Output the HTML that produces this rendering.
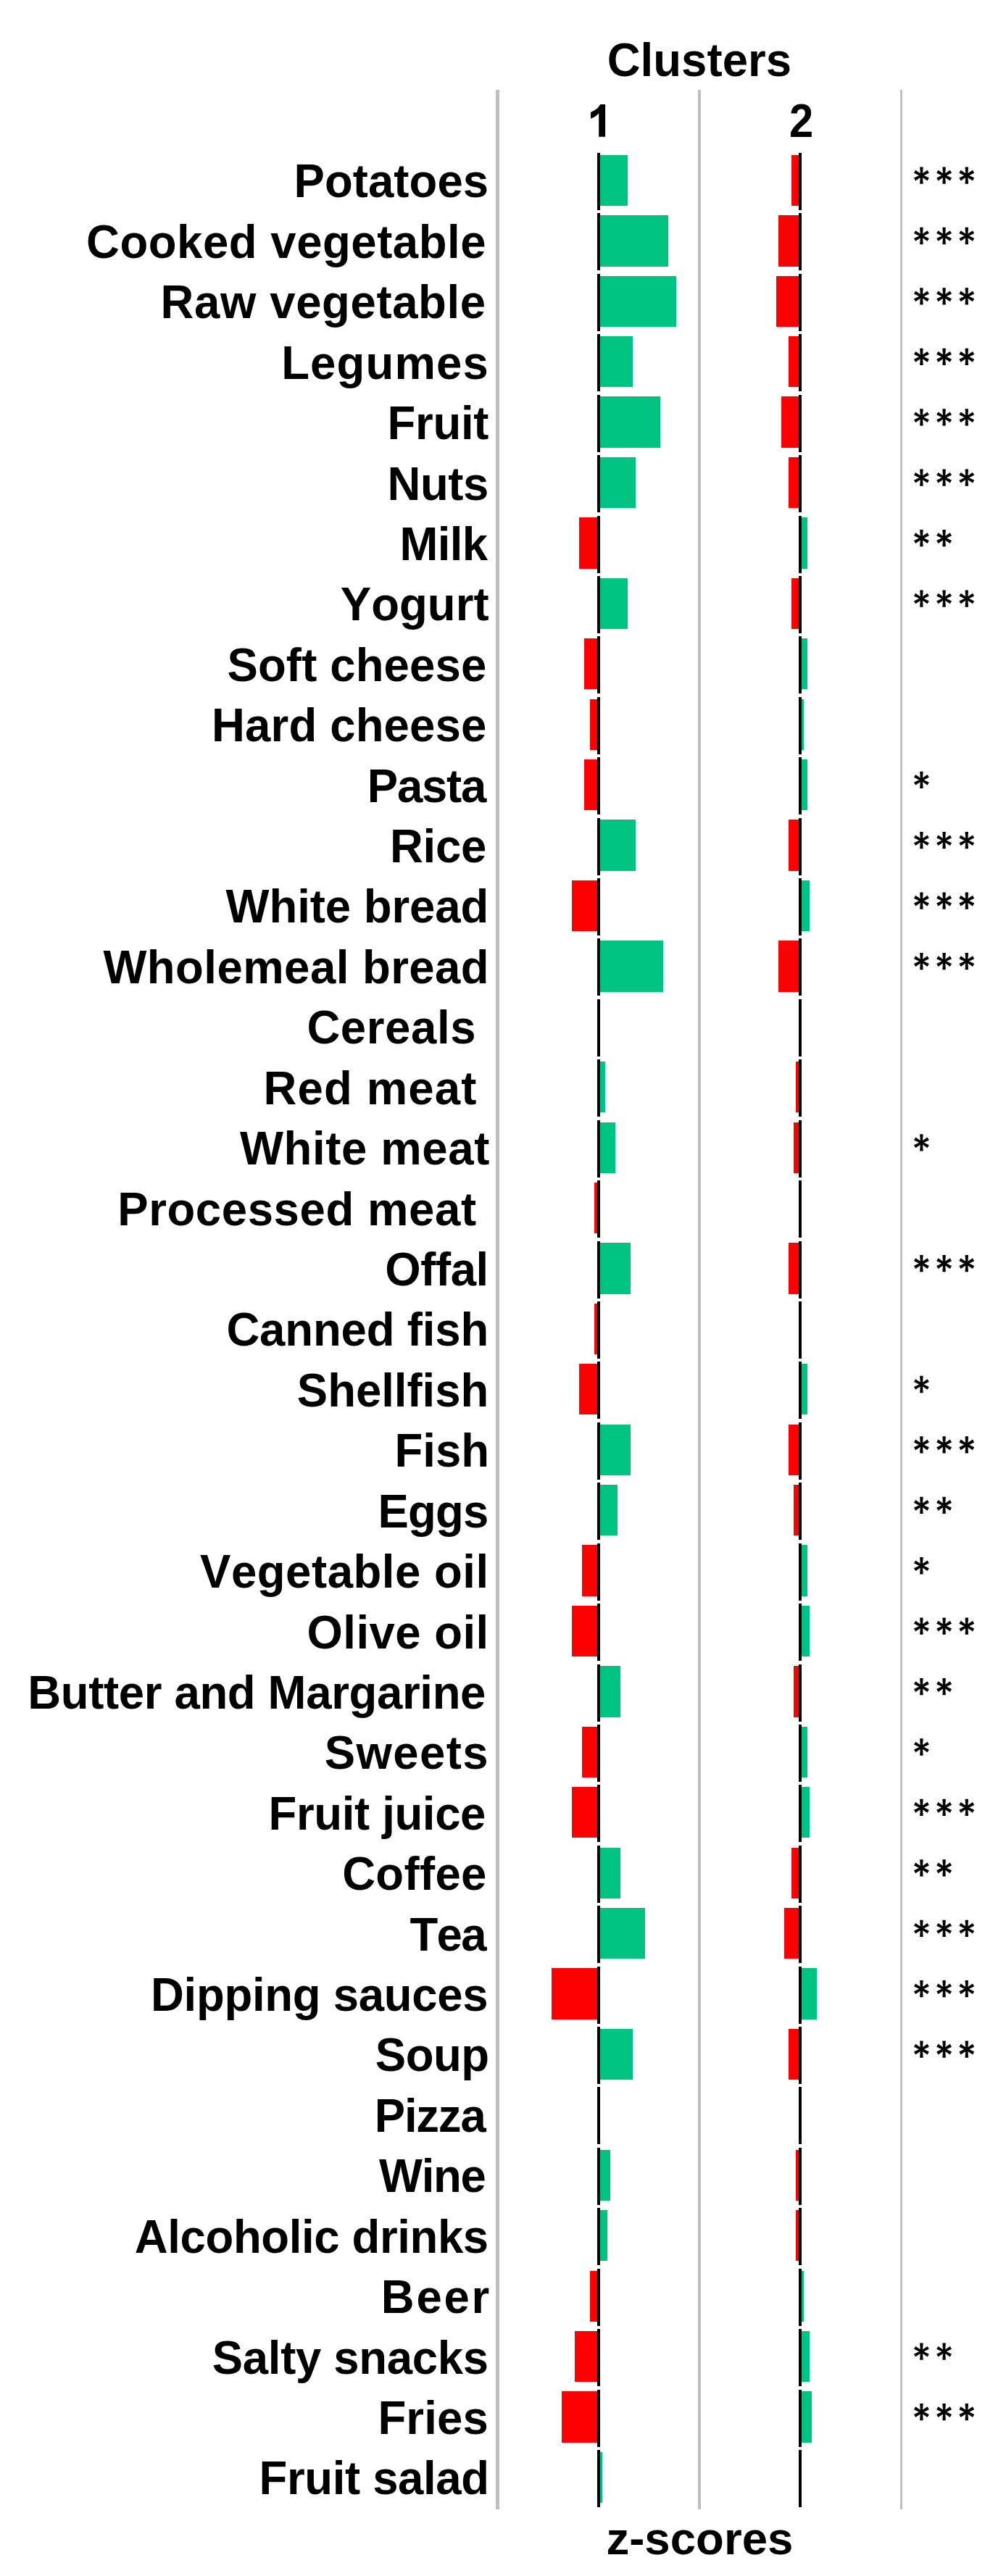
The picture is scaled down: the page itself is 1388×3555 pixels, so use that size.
<!DOCTYPE html>
<html><head><meta charset="utf-8"><title>Clusters</title>
<style>
html,body{margin:0;padding:0;background:#fff;}
body{width:1388px;height:3555px;position:relative;overflow:hidden;font-family:"Liberation Sans",sans-serif;}
.t{position:absolute;font-weight:bold;font-size:63.5px;line-height:1;height:63.5px;color:#000;white-space:pre;font-kerning:none;font-feature-settings:"kern" 0;transform:scaleY(1.015);transform-origin:0 53.76px;}
.g{position:absolute;background:#bfbfbf;}
.k{position:absolute;background:#000;}
.b{position:absolute;}
svg{position:absolute;left:0;top:0;}
</style></head><body>
<div class="g" style="left:684.20px;width:4.70px;top:123.5px;height:3339.3px"></div>
<div class="g" style="left:962.60px;width:4.40px;top:123.5px;height:3339.3px"></div>
<div class="g" style="left:1241.60px;width:3.90px;top:123.5px;height:3339.3px"></div>
<div class="t" id="title" style="left:837.70px;top:52.04px;letter-spacing:0.043px">Clusters</div>
<div class="t" id="two" style="left:1089.10px;top:136.04px;transform:scale(0.94,1.015);transform-origin:0 53.76px;letter-spacing:0.000px">2</div>
<div class="t" id="zs" style="left:836.40px;top:3471.54px;transform:scaleY(0.99);letter-spacing:0.043px">z-scores</div>
<svg width="1388" height="220" style="position:absolute;left:0;top:0"><path fill="#000" d="M835.1 143.9 L828.2 143.9 C826.9 146.5 825.2 148.6 823.1 150.3 C820.9 152.0 818.3 153.6 815.0 155.0 L815.0 163.8 C817.2 163.0 819.1 162.0 820.9 160.9 C822.9 159.7 824.7 158.3 826.2 156.6 L826.2 188.7 L835.1 188.7 Z"/></svg>
<div class="t" id="l0" style="left:405.60px;top:219.44px;letter-spacing:0.043px">Potatoes</div>
<div class="b" style="background:#00c281;left:828.00px;width:38.20px;top:213.80px;height:70.30px"></div>
<div class="k" style="left:824.10px;width:3.90px;top:211.00px;height:79.00px"></div>
<div class="b" style="background:#ff0000;left:1092.00px;width:10.90px;top:213.80px;height:70.30px"></div>
<div class="k" style="left:1102.40px;width:4.00px;top:211.00px;height:79.00px"></div>
<div class="t" id="l1" style="left:119.00px;top:302.86px;letter-spacing:0.540px">Cooked vegetable</div>
<div class="b" style="background:#00c281;left:828.00px;width:93.50px;top:297.22px;height:70.30px"></div>
<div class="k" style="left:824.10px;width:3.90px;top:294.42px;height:79.00px"></div>
<div class="b" style="background:#ff0000;left:1074.30px;width:28.60px;top:297.22px;height:70.30px"></div>
<div class="k" style="left:1102.40px;width:4.00px;top:294.42px;height:79.00px"></div>
<div class="t" id="l2" style="left:221.60px;top:386.28px;letter-spacing:0.608px">Raw vegetable</div>
<div class="b" style="background:#00c281;left:828.00px;width:104.80px;top:380.64px;height:70.30px"></div>
<div class="k" style="left:824.10px;width:3.90px;top:377.84px;height:79.00px"></div>
<div class="b" style="background:#ff0000;left:1071.20px;width:31.70px;top:380.64px;height:70.30px"></div>
<div class="k" style="left:1102.40px;width:4.00px;top:377.84px;height:79.00px"></div>
<div class="t" id="l3" style="left:388.20px;top:469.70px;letter-spacing:1.133px">Legumes</div>
<div class="b" style="background:#00c281;left:828.00px;width:45.40px;top:464.06px;height:70.30px"></div>
<div class="k" style="left:824.10px;width:3.90px;top:461.26px;height:79.00px"></div>
<div class="b" style="background:#ff0000;left:1087.90px;width:15.00px;top:464.06px;height:70.30px"></div>
<div class="k" style="left:1102.40px;width:4.00px;top:461.26px;height:79.00px"></div>
<div class="t" id="l4" style="left:534.60px;top:553.12px;letter-spacing:-0.300px">Fruit</div>
<div class="b" style="background:#00c281;left:828.00px;width:82.90px;top:547.48px;height:70.30px"></div>
<div class="k" style="left:824.10px;width:3.90px;top:544.68px;height:79.00px"></div>
<div class="b" style="background:#ff0000;left:1077.70px;width:25.20px;top:547.48px;height:70.30px"></div>
<div class="k" style="left:1102.40px;width:4.00px;top:544.68px;height:79.00px"></div>
<div class="t" id="l5" style="left:534.60px;top:636.54px;letter-spacing:-0.467px">Nuts</div>
<div class="b" style="background:#00c281;left:828.00px;width:48.80px;top:630.90px;height:70.30px"></div>
<div class="k" style="left:824.10px;width:3.90px;top:628.10px;height:79.00px"></div>
<div class="b" style="background:#ff0000;left:1087.90px;width:15.00px;top:630.90px;height:70.30px"></div>
<div class="k" style="left:1102.40px;width:4.00px;top:628.10px;height:79.00px"></div>
<div class="t" id="l6" style="left:551.40px;top:719.96px;letter-spacing:-0.633px">Milk</div>
<div class="b" style="background:#ff0000;left:799.30px;width:25.30px;top:714.32px;height:70.30px"></div>
<div class="k" style="left:824.10px;width:3.90px;top:711.52px;height:79.00px"></div>
<div class="b" style="background:#00c281;left:1106.40px;width:7.20px;top:714.32px;height:70.30px"></div>
<div class="k" style="left:1102.40px;width:4.00px;top:711.52px;height:79.00px"></div>
<div class="t" id="l7" style="left:469.80px;top:803.38px;letter-spacing:0.040px">Yogurt</div>
<div class="b" style="background:#00c281;left:828.00px;width:38.10px;top:797.74px;height:70.30px"></div>
<div class="k" style="left:824.10px;width:3.90px;top:794.94px;height:79.00px"></div>
<div class="b" style="background:#ff0000;left:1092.00px;width:10.90px;top:797.74px;height:70.30px"></div>
<div class="k" style="left:1102.40px;width:4.00px;top:794.94px;height:79.00px"></div>
<div class="t" id="l8" style="left:313.40px;top:886.80px;letter-spacing:0.150px">Soft cheese</div>
<div class="b" style="background:#ff0000;left:806.30px;width:18.30px;top:881.16px;height:70.30px"></div>
<div class="k" style="left:824.10px;width:3.90px;top:878.36px;height:79.00px"></div>
<div class="b" style="background:#00c281;left:1106.40px;width:7.20px;top:881.16px;height:70.30px"></div>
<div class="k" style="left:1102.40px;width:4.00px;top:878.36px;height:79.00px"></div>
<div class="t" id="l9" style="left:292.00px;top:970.22px;letter-spacing:0.170px">Hard cheese</div>
<div class="b" style="background:#ff0000;left:813.60px;width:11.00px;top:964.58px;height:70.30px"></div>
<div class="k" style="left:824.10px;width:3.90px;top:961.78px;height:79.00px"></div>
<div class="b" style="background:#00c281;left:1106.40px;width:3.00px;top:964.58px;height:70.30px"></div>
<div class="k" style="left:1102.40px;width:4.00px;top:961.78px;height:79.00px"></div>
<div class="t" id="l10" style="left:506.80px;top:1053.64px;letter-spacing:-1.225px">Pasta</div>
<div class="b" style="background:#ff0000;left:806.30px;width:18.30px;top:1048.00px;height:70.30px"></div>
<div class="k" style="left:824.10px;width:3.90px;top:1045.20px;height:79.00px"></div>
<div class="b" style="background:#00c281;left:1106.40px;width:7.20px;top:1048.00px;height:70.30px"></div>
<div class="k" style="left:1102.40px;width:4.00px;top:1045.20px;height:79.00px"></div>
<div class="t" id="l11" style="left:538.00px;top:1137.06px;letter-spacing:-0.267px">Rice</div>
<div class="b" style="background:#00c281;left:828.00px;width:48.80px;top:1131.42px;height:70.30px"></div>
<div class="k" style="left:824.10px;width:3.90px;top:1128.62px;height:79.00px"></div>
<div class="b" style="background:#ff0000;left:1087.90px;width:15.00px;top:1131.42px;height:70.30px"></div>
<div class="k" style="left:1102.40px;width:4.00px;top:1128.62px;height:79.00px"></div>
<div class="t" id="l12" style="left:311.60px;top:1220.48px;letter-spacing:-0.060px">White bread</div>
<div class="b" style="background:#ff0000;left:788.90px;width:35.70px;top:1214.84px;height:70.30px"></div>
<div class="k" style="left:824.10px;width:3.90px;top:1212.04px;height:79.00px"></div>
<div class="b" style="background:#00c281;left:1106.40px;width:10.30px;top:1214.84px;height:70.30px"></div>
<div class="k" style="left:1102.40px;width:4.00px;top:1212.04px;height:79.00px"></div>
<div class="t" id="l13" style="left:142.40px;top:1303.90px;letter-spacing:0.464px">Wholemeal bread</div>
<div class="b" style="background:#00c281;left:828.00px;width:87.00px;top:1298.26px;height:70.30px"></div>
<div class="k" style="left:824.10px;width:3.90px;top:1295.46px;height:79.00px"></div>
<div class="b" style="background:#ff0000;left:1074.30px;width:28.60px;top:1298.26px;height:70.30px"></div>
<div class="k" style="left:1102.40px;width:4.00px;top:1295.46px;height:79.00px"></div>
<div class="t" id="l14" style="left:423.40px;top:1387.32px;letter-spacing:0.600px">Cereals</div>
<div class="k" style="left:824.10px;width:3.90px;top:1378.88px;height:79.00px"></div>
<div class="k" style="left:1102.40px;width:4.00px;top:1378.88px;height:79.00px"></div>
<div class="t" id="l15" style="left:363.40px;top:1470.74px;letter-spacing:1.171px">Red meat</div>
<div class="b" style="background:#00c281;left:828.00px;width:6.90px;top:1465.10px;height:70.30px"></div>
<div class="k" style="left:824.10px;width:3.90px;top:1462.30px;height:79.00px"></div>
<div class="b" style="background:#ff0000;left:1098.30px;width:4.60px;top:1465.10px;height:70.30px"></div>
<div class="k" style="left:1102.40px;width:4.00px;top:1462.30px;height:79.00px"></div>
<div class="t" id="l16" style="left:331.00px;top:1554.16px;letter-spacing:0.622px">White meat</div>
<div class="b" style="background:#00c281;left:828.00px;width:20.70px;top:1548.52px;height:70.30px"></div>
<div class="k" style="left:824.10px;width:3.90px;top:1545.72px;height:79.00px"></div>
<div class="b" style="background:#ff0000;left:1095.10px;width:7.80px;top:1548.52px;height:70.30px"></div>
<div class="k" style="left:1102.40px;width:4.00px;top:1545.72px;height:79.00px"></div>
<div class="t" id="l17" style="left:162.20px;top:1637.58px;letter-spacing:0.600px">Processed meat</div>
<div class="b" style="background:#ff0000;left:819.80px;width:4.80px;top:1631.94px;height:70.30px"></div>
<div class="k" style="left:824.10px;width:3.90px;top:1629.14px;height:79.00px"></div>
<div class="k" style="left:1102.40px;width:4.00px;top:1629.14px;height:79.00px"></div>
<div class="t" id="l18" style="left:531.20px;top:1721.00px;letter-spacing:-0.400px">Offal</div>
<div class="b" style="background:#00c281;left:828.00px;width:41.50px;top:1715.36px;height:70.30px"></div>
<div class="k" style="left:824.10px;width:3.90px;top:1712.56px;height:79.00px"></div>
<div class="b" style="background:#ff0000;left:1087.90px;width:15.00px;top:1715.36px;height:70.30px"></div>
<div class="k" style="left:1102.40px;width:4.00px;top:1712.56px;height:79.00px"></div>
<div class="t" id="l19" style="left:312.40px;top:1804.42px;letter-spacing:-0.150px">Canned fish</div>
<div class="b" style="background:#ff0000;left:819.80px;width:4.80px;top:1798.78px;height:70.30px"></div>
<div class="k" style="left:824.10px;width:3.90px;top:1795.98px;height:79.00px"></div>
<div class="k" style="left:1102.40px;width:4.00px;top:1795.98px;height:79.00px"></div>
<div class="t" id="l20" style="left:409.80px;top:1887.84px;letter-spacing:-0.025px">Shellfish</div>
<div class="b" style="background:#ff0000;left:799.30px;width:25.30px;top:1882.20px;height:70.30px"></div>
<div class="k" style="left:824.10px;width:3.90px;top:1879.40px;height:79.00px"></div>
<div class="b" style="background:#00c281;left:1106.40px;width:7.20px;top:1882.20px;height:70.30px"></div>
<div class="k" style="left:1102.40px;width:4.00px;top:1879.40px;height:79.00px"></div>
<div class="t" id="l21" style="left:544.60px;top:1971.26px;letter-spacing:-0.033px">Fish</div>
<div class="b" style="background:#00c281;left:828.00px;width:41.50px;top:1965.62px;height:70.30px"></div>
<div class="k" style="left:824.10px;width:3.90px;top:1962.82px;height:79.00px"></div>
<div class="b" style="background:#ff0000;left:1087.90px;width:15.00px;top:1965.62px;height:70.30px"></div>
<div class="k" style="left:1102.40px;width:4.00px;top:1962.82px;height:79.00px"></div>
<div class="t" id="l22" style="left:521.40px;top:2054.68px;letter-spacing:-0.800px">Eggs</div>
<div class="b" style="background:#00c281;left:828.00px;width:23.80px;top:2049.04px;height:70.30px"></div>
<div class="k" style="left:824.10px;width:3.90px;top:2046.24px;height:79.00px"></div>
<div class="b" style="background:#ff0000;left:1095.10px;width:7.80px;top:2049.04px;height:70.30px"></div>
<div class="k" style="left:1102.40px;width:4.00px;top:2046.24px;height:79.00px"></div>
<div class="t" id="l23" style="left:276.00px;top:2138.10px;letter-spacing:0.542px">Vegetable oil</div>
<div class="b" style="background:#ff0000;left:803.20px;width:21.40px;top:2132.46px;height:70.30px"></div>
<div class="k" style="left:824.10px;width:3.90px;top:2129.66px;height:79.00px"></div>
<div class="b" style="background:#00c281;left:1106.40px;width:7.20px;top:2132.46px;height:70.30px"></div>
<div class="k" style="left:1102.40px;width:4.00px;top:2129.66px;height:79.00px"></div>
<div class="t" id="l24" style="left:423.40px;top:2221.52px;letter-spacing:0.475px">Olive oil</div>
<div class="b" style="background:#ff0000;left:788.90px;width:35.70px;top:2215.88px;height:70.30px"></div>
<div class="k" style="left:824.10px;width:3.90px;top:2213.08px;height:79.00px"></div>
<div class="b" style="background:#00c281;left:1106.40px;width:10.30px;top:2215.88px;height:70.30px"></div>
<div class="k" style="left:1102.40px;width:4.00px;top:2213.08px;height:79.00px"></div>
<div class="t" id="l25" style="left:38.20px;top:2304.94px;letter-spacing:-0.337px">Butter and Margarine</div>
<div class="b" style="background:#00c281;left:828.00px;width:27.70px;top:2299.30px;height:70.30px"></div>
<div class="k" style="left:824.10px;width:3.90px;top:2296.50px;height:79.00px"></div>
<div class="b" style="background:#ff0000;left:1095.10px;width:7.80px;top:2299.30px;height:70.30px"></div>
<div class="k" style="left:1102.40px;width:4.00px;top:2296.50px;height:79.00px"></div>
<div class="t" id="l26" style="left:447.80px;top:2388.36px;letter-spacing:1.380px">Sweets</div>
<div class="b" style="background:#ff0000;left:803.20px;width:21.40px;top:2382.72px;height:70.30px"></div>
<div class="k" style="left:824.10px;width:3.90px;top:2379.92px;height:79.00px"></div>
<div class="b" style="background:#00c281;left:1106.40px;width:7.20px;top:2382.72px;height:70.30px"></div>
<div class="k" style="left:1102.40px;width:4.00px;top:2379.92px;height:79.00px"></div>
<div class="t" id="l27" style="left:370.60px;top:2471.78px;letter-spacing:-0.360px">Fruit juice</div>
<div class="b" style="background:#ff0000;left:788.90px;width:35.70px;top:2466.14px;height:70.30px"></div>
<div class="k" style="left:824.10px;width:3.90px;top:2463.34px;height:79.00px"></div>
<div class="b" style="background:#00c281;left:1106.40px;width:10.30px;top:2466.14px;height:70.30px"></div>
<div class="k" style="left:1102.40px;width:4.00px;top:2463.34px;height:79.00px"></div>
<div class="t" id="l28" style="left:472.20px;top:2555.20px;letter-spacing:0.320px">Coffee</div>
<div class="b" style="background:#00c281;left:828.00px;width:27.70px;top:2549.56px;height:70.30px"></div>
<div class="k" style="left:824.10px;width:3.90px;top:2546.76px;height:79.00px"></div>
<div class="b" style="background:#ff0000;left:1092.00px;width:10.90px;top:2549.56px;height:70.30px"></div>
<div class="k" style="left:1102.40px;width:4.00px;top:2546.76px;height:79.00px"></div>
<div class="t" id="l29" style="left:565.40px;top:2638.62px;letter-spacing:-1.600px">Tea</div>
<div class="b" style="background:#00c281;left:828.00px;width:62.30px;top:2632.98px;height:70.30px"></div>
<div class="k" style="left:824.10px;width:3.90px;top:2630.18px;height:79.00px"></div>
<div class="b" style="background:#ff0000;left:1081.60px;width:21.30px;top:2632.98px;height:70.30px"></div>
<div class="k" style="left:1102.40px;width:4.00px;top:2630.18px;height:79.00px"></div>
<div class="t" id="l30" style="left:208.00px;top:2722.04px;letter-spacing:-0.285px">Dipping sauces</div>
<div class="b" style="background:#ff0000;left:760.80px;width:63.80px;top:2716.40px;height:70.30px"></div>
<div class="k" style="left:824.10px;width:3.90px;top:2713.60px;height:79.00px"></div>
<div class="b" style="background:#00c281;left:1106.40px;width:20.50px;top:2716.40px;height:70.30px"></div>
<div class="k" style="left:1102.40px;width:4.00px;top:2713.60px;height:79.00px"></div>
<div class="t" id="l31" style="left:517.80px;top:2805.46px;letter-spacing:-0.467px">Soup</div>
<div class="b" style="background:#00c281;left:828.00px;width:45.40px;top:2799.82px;height:70.30px"></div>
<div class="k" style="left:824.10px;width:3.90px;top:2797.02px;height:79.00px"></div>
<div class="b" style="background:#ff0000;left:1087.90px;width:15.00px;top:2799.82px;height:70.30px"></div>
<div class="k" style="left:1102.40px;width:4.00px;top:2797.02px;height:79.00px"></div>
<div class="t" id="l32" style="left:516.80px;top:2888.88px;letter-spacing:-1.225px">Pizza</div>
<div class="k" style="left:824.10px;width:3.90px;top:2880.44px;height:79.00px"></div>
<div class="k" style="left:1102.40px;width:4.00px;top:2880.44px;height:79.00px"></div>
<div class="t" id="l33" style="left:523.00px;top:2972.30px;letter-spacing:-1.300px">Wine</div>
<div class="b" style="background:#00c281;left:828.00px;width:13.60px;top:2966.66px;height:70.30px"></div>
<div class="k" style="left:824.10px;width:3.90px;top:2963.86px;height:79.00px"></div>
<div class="b" style="background:#ff0000;left:1098.30px;width:4.60px;top:2966.66px;height:70.30px"></div>
<div class="k" style="left:1102.40px;width:4.00px;top:2963.86px;height:79.00px"></div>
<div class="t" id="l34" style="left:185.80px;top:3055.72px;letter-spacing:-0.373px">Alcoholic drinks</div>
<div class="b" style="background:#00c281;left:828.00px;width:10.40px;top:3050.08px;height:70.30px"></div>
<div class="k" style="left:824.10px;width:3.90px;top:3047.28px;height:79.00px"></div>
<div class="b" style="background:#ff0000;left:1098.30px;width:4.60px;top:3050.08px;height:70.30px"></div>
<div class="k" style="left:1102.40px;width:4.00px;top:3047.28px;height:79.00px"></div>
<div class="t" id="l35" style="left:525.80px;top:3139.14px;letter-spacing:2.733px">Beer</div>
<div class="b" style="background:#ff0000;left:813.60px;width:11.00px;top:3133.50px;height:70.30px"></div>
<div class="k" style="left:824.10px;width:3.90px;top:3130.70px;height:79.00px"></div>
<div class="b" style="background:#00c281;left:1106.40px;width:3.00px;top:3133.50px;height:70.30px"></div>
<div class="k" style="left:1102.40px;width:4.00px;top:3130.70px;height:79.00px"></div>
<div class="t" id="l36" style="left:292.80px;top:3222.56px;letter-spacing:-0.327px">Salty snacks</div>
<div class="b" style="background:#ff0000;left:792.90px;width:31.70px;top:3216.92px;height:70.30px"></div>
<div class="k" style="left:824.10px;width:3.90px;top:3214.12px;height:79.00px"></div>
<div class="b" style="background:#00c281;left:1106.40px;width:10.30px;top:3216.92px;height:70.30px"></div>
<div class="k" style="left:1102.40px;width:4.00px;top:3214.12px;height:79.00px"></div>
<div class="t" id="l37" style="left:521.40px;top:3305.98px;letter-spacing:0.150px">Fries</div>
<div class="b" style="background:#ff0000;left:774.90px;width:49.70px;top:3300.34px;height:70.30px"></div>
<div class="k" style="left:824.10px;width:3.90px;top:3297.54px;height:79.00px"></div>
<div class="b" style="background:#00c281;left:1106.40px;width:13.40px;top:3300.34px;height:70.30px"></div>
<div class="k" style="left:1102.40px;width:4.00px;top:3297.54px;height:79.00px"></div>
<div class="t" id="l38" style="left:357.60px;top:3389.40px;letter-spacing:-0.360px">Fruit salad</div>
<div class="b" style="background:#00c281;left:828.00px;width:3.00px;top:3383.76px;height:70.30px"></div>
<div class="k" style="left:824.10px;width:3.90px;top:3380.96px;height:79.00px"></div>
<div class="k" style="left:1102.40px;width:4.00px;top:3380.96px;height:79.00px"></div>
<svg width="1388" height="3555" viewBox="0 0 1388 3555"><defs><path id="a" fill="#000" d="M1.50 0.00 L2.25 -11.65 L-2.25 -11.65 L-1.50 -0.00 Z M-1.50 0.00 L-2.25 11.65 L2.25 11.65 L1.50 -0.00 Z M0.75 1.30 L10.43 -3.43 L8.18 -7.32 L-0.75 -1.30 Z M-0.75 1.30 L8.18 7.32 L10.43 3.43 L0.75 -1.30 Z M-0.75 -1.30 L-10.43 3.43 L-8.18 7.32 L0.75 1.30 Z M0.75 -1.30 L-8.18 -7.32 L-10.43 -3.43 L-0.75 1.30 Z"/></defs><use href="#a" x="1271.40" y="242.10"/><use href="#a" x="1302.60" y="242.10"/><use href="#a" x="1333.80" y="242.10"/><use href="#a" x="1271.40" y="325.52"/><use href="#a" x="1302.60" y="325.52"/><use href="#a" x="1333.80" y="325.52"/><use href="#a" x="1271.40" y="408.94"/><use href="#a" x="1302.60" y="408.94"/><use href="#a" x="1333.80" y="408.94"/><use href="#a" x="1271.40" y="492.36"/><use href="#a" x="1302.60" y="492.36"/><use href="#a" x="1333.80" y="492.36"/><use href="#a" x="1271.40" y="575.78"/><use href="#a" x="1302.60" y="575.78"/><use href="#a" x="1333.80" y="575.78"/><use href="#a" x="1271.40" y="659.20"/><use href="#a" x="1302.60" y="659.20"/><use href="#a" x="1333.80" y="659.20"/><use href="#a" x="1271.40" y="742.62"/><use href="#a" x="1302.60" y="742.62"/><use href="#a" x="1271.40" y="826.04"/><use href="#a" x="1302.60" y="826.04"/><use href="#a" x="1333.80" y="826.04"/><use href="#a" x="1271.40" y="1076.30"/><use href="#a" x="1271.40" y="1159.72"/><use href="#a" x="1302.60" y="1159.72"/><use href="#a" x="1333.80" y="1159.72"/><use href="#a" x="1271.40" y="1243.14"/><use href="#a" x="1302.60" y="1243.14"/><use href="#a" x="1333.80" y="1243.14"/><use href="#a" x="1271.40" y="1326.56"/><use href="#a" x="1302.60" y="1326.56"/><use href="#a" x="1333.80" y="1326.56"/><use href="#a" x="1271.40" y="1576.82"/><use href="#a" x="1271.40" y="1743.66"/><use href="#a" x="1302.60" y="1743.66"/><use href="#a" x="1333.80" y="1743.66"/><use href="#a" x="1271.40" y="1910.50"/><use href="#a" x="1271.40" y="1993.92"/><use href="#a" x="1302.60" y="1993.92"/><use href="#a" x="1333.80" y="1993.92"/><use href="#a" x="1271.40" y="2077.34"/><use href="#a" x="1302.60" y="2077.34"/><use href="#a" x="1271.40" y="2160.76"/><use href="#a" x="1271.40" y="2244.18"/><use href="#a" x="1302.60" y="2244.18"/><use href="#a" x="1333.80" y="2244.18"/><use href="#a" x="1271.40" y="2327.60"/><use href="#a" x="1302.60" y="2327.60"/><use href="#a" x="1271.40" y="2411.02"/><use href="#a" x="1271.40" y="2494.44"/><use href="#a" x="1302.60" y="2494.44"/><use href="#a" x="1333.80" y="2494.44"/><use href="#a" x="1271.40" y="2577.86"/><use href="#a" x="1302.60" y="2577.86"/><use href="#a" x="1271.40" y="2661.28"/><use href="#a" x="1302.60" y="2661.28"/><use href="#a" x="1333.80" y="2661.28"/><use href="#a" x="1271.40" y="2744.70"/><use href="#a" x="1302.60" y="2744.70"/><use href="#a" x="1333.80" y="2744.70"/><use href="#a" x="1271.40" y="2828.12"/><use href="#a" x="1302.60" y="2828.12"/><use href="#a" x="1333.80" y="2828.12"/><use href="#a" x="1271.40" y="3245.22"/><use href="#a" x="1302.60" y="3245.22"/><use href="#a" x="1271.40" y="3328.64"/><use href="#a" x="1302.60" y="3328.64"/><use href="#a" x="1333.80" y="3328.64"/></svg>
</body></html>
